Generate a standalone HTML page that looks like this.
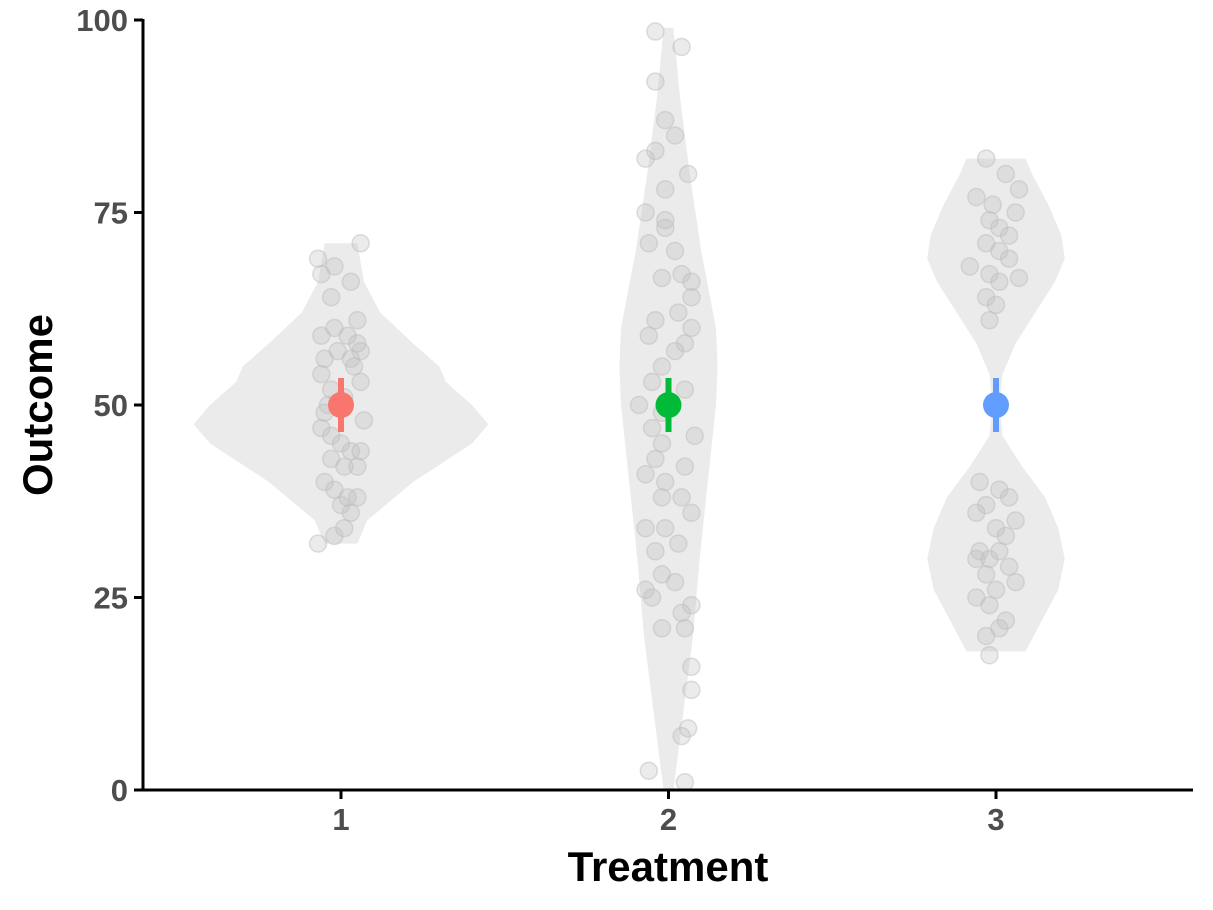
<!DOCTYPE html>
<html><head><meta charset="utf-8"><style>
html,body{margin:0;padding:0;background:#fff;}
svg{display:block;font-family:"Liberation Sans",Arial,sans-serif;}
</style></head><body>
<svg id="chart" width="1213" height="910"></svg>
<script>
const categories=["1","2","3"];
const yTicks=[0,25,50,75,100];
const meanValues=[50,50,50];
const ciLow=[46.5,46.5,46.5];
const ciHigh=[53.5,53.5,53.5];
const colors=["#F8766D","#00BA38","#619CFF"];
// violin density profiles: value levels and half-widths (category units)
const v1Levels=[32,35,40,45,47.5,50,53,55,58,62,66,71];
const v1Widths=[0.05,0.08,0.22,0.40,0.45,0.40,0.32,0.30,0.22,0.12,0.07,0.05];
const v2Levels=[0,10,20,30,40,50,55,60,70,80,90,99];
const v2Widths=[0.015,0.045,0.075,0.095,0.12,0.145,0.15,0.145,0.1,0.065,0.035,0.015];
const v3Levels=[18,22,26,30,34,38,42,46,50,54,58,62,66,69,72,76,80,82];
const v3Widths=[0.09,0.14,0.19,0.21,0.19,0.15,0.08,0.02,0.01,0.02,0.06,0.12,0.18,0.21,0.20,0.16,0.11,0.09];
// jittered points: jitter offsets (category units) and values
const p1Jitter=[-0.07,-0.06,-0.02,-0.03,0.03,-0.02,0.02,0.05,0.06,-0.05,-0.06,0.04,0.06,-0.03,0.01,-0.05,0.07,-0.06,-0.03,0,0.03,0.06,-0.03,0.01,0.05,-0.05,-0.02,0.02,0.05,0,0.03,0.01,-0.02,-0.07,0.06,0.05,-0.06,-0.01,0.03,-0.04];
const p1Values=[69,67,68,64,66,60,59,58,57,56,54,55,53,52,51,49,48,47,46,45,44,44,43,42,42,40,39,38,38,37,36,34,33,32,71,61,59,57,56,50];
const p2Jitter=[-0.04,0.04,-0.04,-0.01,0.02,-0.07,-0.04,0.06,-0.01,-0.07,-0.01,-0.01,-0.06,0.02,0.04,0.07,-0.02,0.07,0.03,-0.04,0.07,-0.06,0.05,0.02,-0.02,-0.05,0.05,-0.09,-0.02,-0.05,0.08,-0.02,-0.04,0.05,-0.01,-0.07,-0.02,0.04,0.07,-0.01,-0.07,-0.04,0.03,-0.02,-0.07,0.02,-0.05,0.07,0.04,-0.02,0.05,0.07,0.07,0.06,0.04,-0.06,0.05];
const p2Values=[98.5,96.5,92,87,85,82,83,80,78,75,74,73,71,70,67,66,66.5,64,62,61,60,59,58,57,55,53,52,50,49,47,46,45,43,42,40,41,38,38,36,34,34,31,32,28,26,27,25,24,23,21,21,16,13,8,7,2.5,1];
const p3Jitter=[-0.03,0.03,0.07,-0.06,-0.01,0.06,-0.02,0.01,0.04,-0.03,0.01,0.04,-0.08,-0.02,0.07,0.01,-0.03,0,-0.02,-0.05,0.01,0.04,-0.03,-0.06,0.06,0,0.03,-0.05,0.01,-0.02,-0.06,0.04,-0.03,0.06,0,-0.06,-0.02,0.03,-0.03,-0.02,0.01];
const p3Values=[82,80,78,77,76,75,74,73,72,71,70,69,68,67,66.5,66,64,63,61,40,39,38,37,36,35,34,33,31,31,30,30,29,28,27,26,25,24,22,20,17.5,21];

const NS="http://www.w3.org/2000/svg";
const svg=document.getElementById("chart");
const X0=341,XSTEP=327.5,Y0=790,YPX=7.7;
const xs=(i,off)=>X0+(i+(off||0))*XSTEP;
const ys=v=>Y0-v*YPX;
function mk(t,a,p){const e=document.createElementNS(NS,t);for(const k in a)e.setAttribute(k,a[k]);(p||svg).appendChild(e);return e;}

const violins=[[v1Levels,v1Widths],[v2Levels,v2Widths],[v3Levels,v3Widths]];
violins.forEach((v,i)=>{
  const [lv,wd]=v;let pts=[];
  for(let k=0;k<lv.length;k++)pts.push(xs(i,wd[k])+","+ys(lv[k]));
  for(let k=lv.length-1;k>=0;k--)pts.push(xs(i,-wd[k])+","+ys(lv[k]));
  const e=mk("polygon",{points:pts.join(" "),fill:"#ebebeb"});
  
  
});
const pts=[[p1Jitter,p1Values],[p2Jitter,p2Values],[p3Jitter,p3Values]];
pts.forEach((p,i)=>{
  const g=mk("g",{});
  
  
  p[1].forEach((val,k)=>{
    const c=mk("circle",{cx:xs(i,p[0][k]),cy:ys(val),r:8.5,fill:"#bdbdbd","fill-opacity":0.3,stroke:"#bdbdbd","stroke-opacity":0.5,"stroke-width":1.5},g);
    
    
  });
});
meanValues.forEach((m,i)=>{
  const l=mk("line",{x1:xs(i),x2:xs(i),y1:ys(ciLow[i]),y2:ys(ciHigh[i]),stroke:colors[i],"stroke-width":6});
  
  
  const c=mk("circle",{cx:xs(i),cy:ys(m),r:13,fill:colors[i]});
  
  
});
// axes
const ax=mk("line",{x1:143,x2:1193,y1:Y0,y2:Y0,stroke:"#000","stroke-width":3});


const ay=mk("line",{x1:143,x2:143,y1:ys(100)-1,y2:Y0+1.5,stroke:"#000","stroke-width":3});


yTicks.forEach(t=>{
  const l=mk("line",{x1:134,x2:143,y1:ys(t),y2:ys(t),stroke:"#000","stroke-width":3});
  
  
  const tx=mk("text",{x:128,y:ys(t)+11,"text-anchor":"end","font-size":31,"font-weight":"bold",fill:"#4d4d4d"});
  tx.textContent=t;
  
  
});
categories.forEach((c,i)=>{
  const l=mk("line",{x1:xs(i),x2:xs(i),y1:Y0,y2:Y0+9,stroke:"#000","stroke-width":3});
  
  
  const tx=mk("text",{x:xs(i),y:Y0+40,"text-anchor":"middle","font-size":31,"font-weight":"bold",fill:"#4d4d4d"});
  tx.textContent=c;
  
  
});
const xt=mk("text",{x:668,y:881,"text-anchor":"middle","font-size":42,"font-weight":"bold",fill:"#000"});
xt.textContent="Treatment";


const yt=mk("text",{x:0,y:0,transform:"translate(52,405) rotate(-90)","text-anchor":"middle","font-size":42,"font-weight":"bold",fill:"#000"});
yt.textContent="Outcome";


</script>
</body></html>
